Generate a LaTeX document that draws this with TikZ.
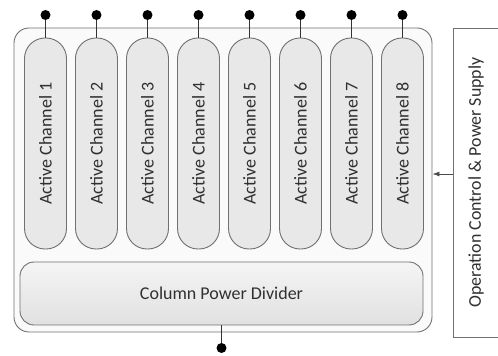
\documentclass[tikz,border=0pt]{standalone}
\usepackage{fontspec}
\setmainfont{Carlito}
\usetikzlibrary{arrows.meta}
\definecolor{Edge}{RGB}{112,112,112}
\definecolor{Ink}{RGB}{48,48,48}
\def\Chans{8}
\def\Cfirst{45.5}
\def\Cstep{51}
\def\Cmid{212.5}
\def\Dotrow{341}

\tikzset{
    chan/.style={draw=Edge,line width=0.9pt,rotate=90,minimum width=211pt,minimum height=42pt,
        rounded corners=20.5pt,fill=black!9,text=Ink,inner sep=0pt,
        font=\fontsize{18}{20}\selectfont},
    pindot/.style={circle,fill=black,inner sep=0pt,minimum size=10pt},
    wire/.style={draw=black!80,line width=0.8pt},
}

\begin{document}
\begin{tikzpicture}[x=1pt,y=1pt]
    \path[use as bounding box] (0,0) rectangle (498,356);
    % outer frame
    \node[draw=Edge,line width=0.9pt,fill=black!2,rounded corners=15pt,minimum width=418pt,minimum height=304pt] (frame) at (223,176) {};
    % channels
    \foreach \P in {1,...,\Chans} {
        \node[chan] (ch\P) at ({\Cfirst+(\P-1)*\Cstep},\Cmid) {Active Channel \P};
        \node[pindot] (t\P) at ({\Cfirst+(\P-1)*\Cstep},\Dotrow) {};
        \draw[wire] (t\P) -- (ch\P.east);
    }
    % divider
    \node[draw=Edge,line width=0.9pt,rounded corners=14pt,top color=black!4,bottom color=black!12,
        minimum width=403pt,minimum height=63pt,text=Ink,font=\fontsize{18}{20}\selectfont] (divider) at (221.5,62.5) {Column Power Divider};
    \node[pindot] (out) at (221.5,8) {};
    \draw[wire] (divider.south) -- (out);
    % supply
    \node[draw=Edge,line width=0.9pt,fill=white,rotate=90,minimum width=309pt,minimum height=46pt,inner sep=0pt,
        text=Ink,font=\fontsize{17.9}{20}\selectfont] (supply) at (476,173.5) {Operation Control \& Power Supply};
    \coordinate (feed) at ([yshift=8.5pt]supply.north);
    \draw[draw=black!70,line width=0.8pt,-{Latex[length=7pt,width=5pt]}] (feed) -- (feed -| frame.east);
\end{tikzpicture}
\end{document}
